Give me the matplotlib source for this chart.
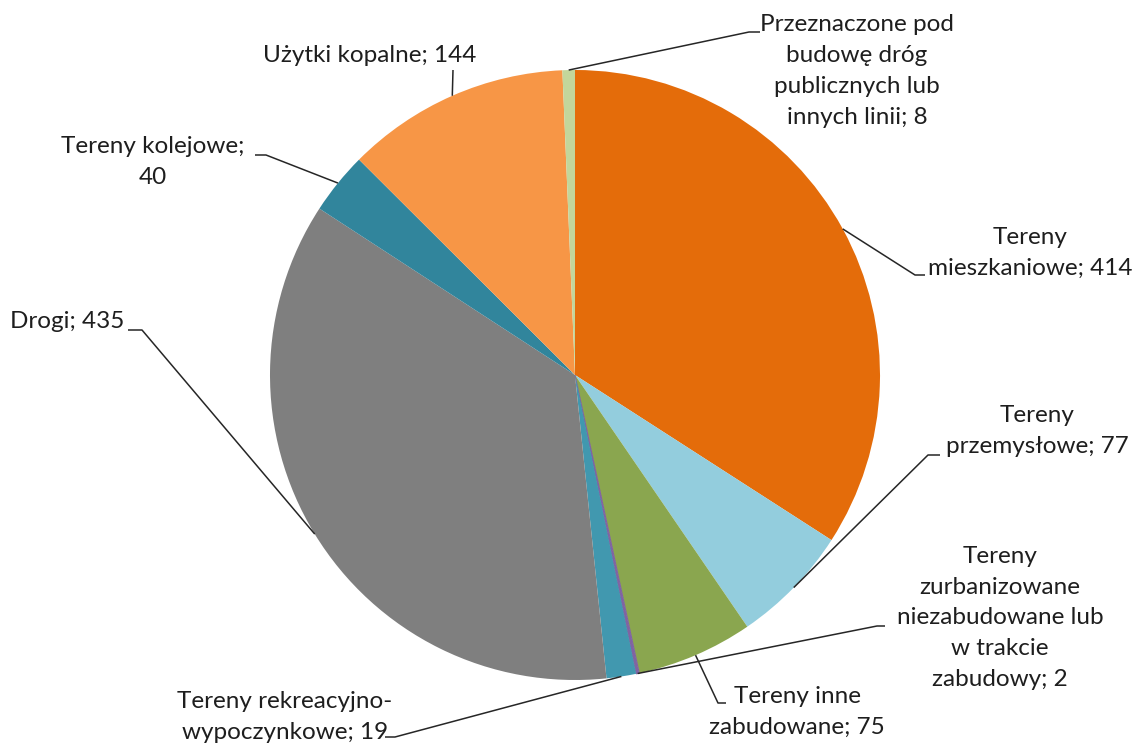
import numpy as np
import matplotlib.pyplot as plt

# data (clockwise from 12 o'clock)
labels = ["Tereny\nmieszkaniowe; 414",
          "Tereny\nprzemysłowe; 77",
          "Tereny inne\nzabudowane; 75",
          "Tereny\nzurbanizowane\nniezabudowane lub\nw trakcie\nzabudowy; 2",
          "Tereny rekreacyjno-\nwypoczynkowe; 19",
          "Drogi; 435",
          "Tereny kolejowe;\n40",
          "Użytki kopalne; 144",
          "Przeznaczone pod\nbudowę dróg\npublicznych lub\ninnych linii; 8"]
values = [414, 77, 75, 2, 19, 435, 40, 144, 8]
colors = ["#E46C0A", "#93CDDD", "#8AA64F", "#8064A2", "#4198AF",
          "#7F7F7F", "#31859C", "#F79646", "#C3D69B"]

W, H = 1136, 746

# label layout in pixels (y down): text centre, elbow, line end
text_pos = [(1030, 253), (1037, 431), (797, 712), (1000, 618), (285, 717),
            (67, 322), (153, 162), (370, 55), (857, 71)]
elbows = [(915, 275), (928, 455), (718, 703), (877, 626), (395, 737),
          (142, 330), (266, 155), (453, 70), (749, 32)]
ends = [(925, 275), (940, 455), (726, 703), (885, 626), (385, 737),
        (128, 330), (255, 155), (453, 70), (760, 32)]

plt.rcParams['font.family'] = ['Lato', 'DejaVu Sans']

fig = plt.figure(figsize=(W / 100, H / 100), dpi=100)
ax = fig.add_axes([0, 0, 1, 1])

cx, cy, r = 575, H - 375, 305
wedges, _ = ax.pie(values, colors=colors, startangle=90, counterclock=False,
                   center=(cx, cy), radius=r,
                   wedgeprops=dict(linewidth=0.3, edgecolor='none'))
# keep the tiny purple slice visible
wedges[3].set_edgecolor(colors[3])
wedges[3].set_linewidth(0.8)
ax.set_xlim(0, W)
ax.set_ylim(0, H)
ax.set_aspect('equal')
ax.axis('off')

for w, lab, tp, el, en in zip(wedges, labels, text_pos, elbows, ends):
    mid = np.deg2rad((w.theta1 + w.theta2) / 2)
    sx, sy = cx + r * np.cos(mid), cy + r * np.sin(mid)
    ax.plot([sx, el[0], en[0]], [sy, H - el[1], H - en[1]],
            color='#262626', lw=1.1, solid_capstyle='butt')
    ax.text(tp[0], H - tp[1], lab, ha='center', va='center',
            multialignment='center', fontsize=17.5, color='#1e1e1e',
            linespacing=1.58)

fig.savefig('out.png', dpi=100)
